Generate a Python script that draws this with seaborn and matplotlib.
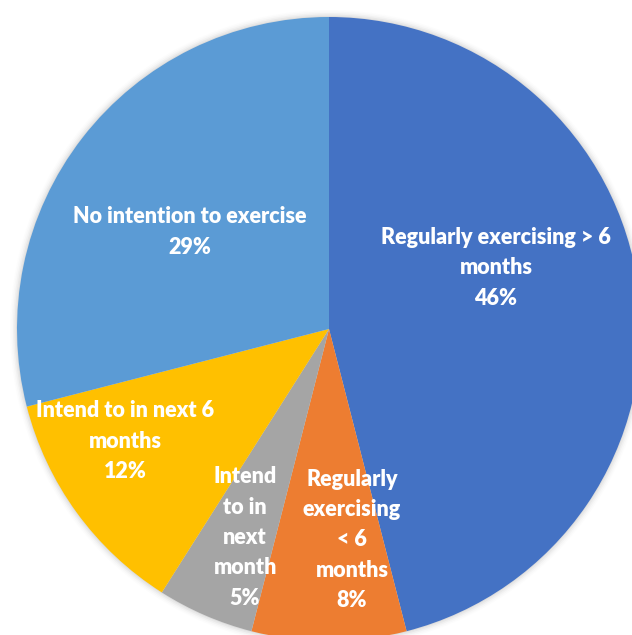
import matplotlib
matplotlib.use("Agg")
import matplotlib.pyplot as plt
from matplotlib.patches import Circle
import seaborn as sns

categories = [
    "Regularly exercising > 6\nmonths",
    "Regularly\nexercising\n< 6\nmonths",
    "Intend\nto in\nnext\nmonth",
    "Intend to in next 6\nmonths",
    "No intention to exercise",
]
values = [46, 8, 5, 12, 29]
colors = ["#4472C4", "#ED7D31", "#A5A5A5", "#FFC000", "#5B9BD5"]

# label anchor positions relative to pie centre, as fractions of radius
label_pos = [(0.535, 0.196), (0.074, -0.676), (-0.269, -0.668), (-0.654, -0.359), (-0.446, 0.311)]

sns.set_theme(style="white")
plt.rcParams["font.family"] = ["Lato", "DejaVu Sans"]

W, H = 632, 635
fig = plt.figure(figsize=(W / 100, H / 100), dpi=100)
ax = fig.add_axes([0, 0, 1, 1])

cx, cy, R = 329, H - 329, 312

# soft shadow around the pie
for i, a in enumerate([0.10, 0.07, 0.05, 0.03, 0.02]):
    ax.add_patch(Circle((cx, cy), R + 1 + i * 1.5, color="#808080", alpha=a, zorder=0, lw=0))

wedges, _ = ax.pie(values, colors=colors, startangle=90, counterclock=False,
                   center=(cx, cy), radius=R,
                   wedgeprops=dict(linewidth=0, zorder=1))

for cat, v, (fx, fy) in zip(categories, values, label_pos):
    ax.text(cx + fx * R, cy + fy * R, f"{cat}\n{v}%", ha="center", va="center",
            color="white", fontsize=15.5, fontweight="heavy", linespacing=1.55, zorder=3)

ax.set_xlim(0, W)
ax.set_ylim(0, H)
ax.set_aspect("auto")
ax.axis("off")
fig.savefig("out.png", dpi=100, facecolor="white")
